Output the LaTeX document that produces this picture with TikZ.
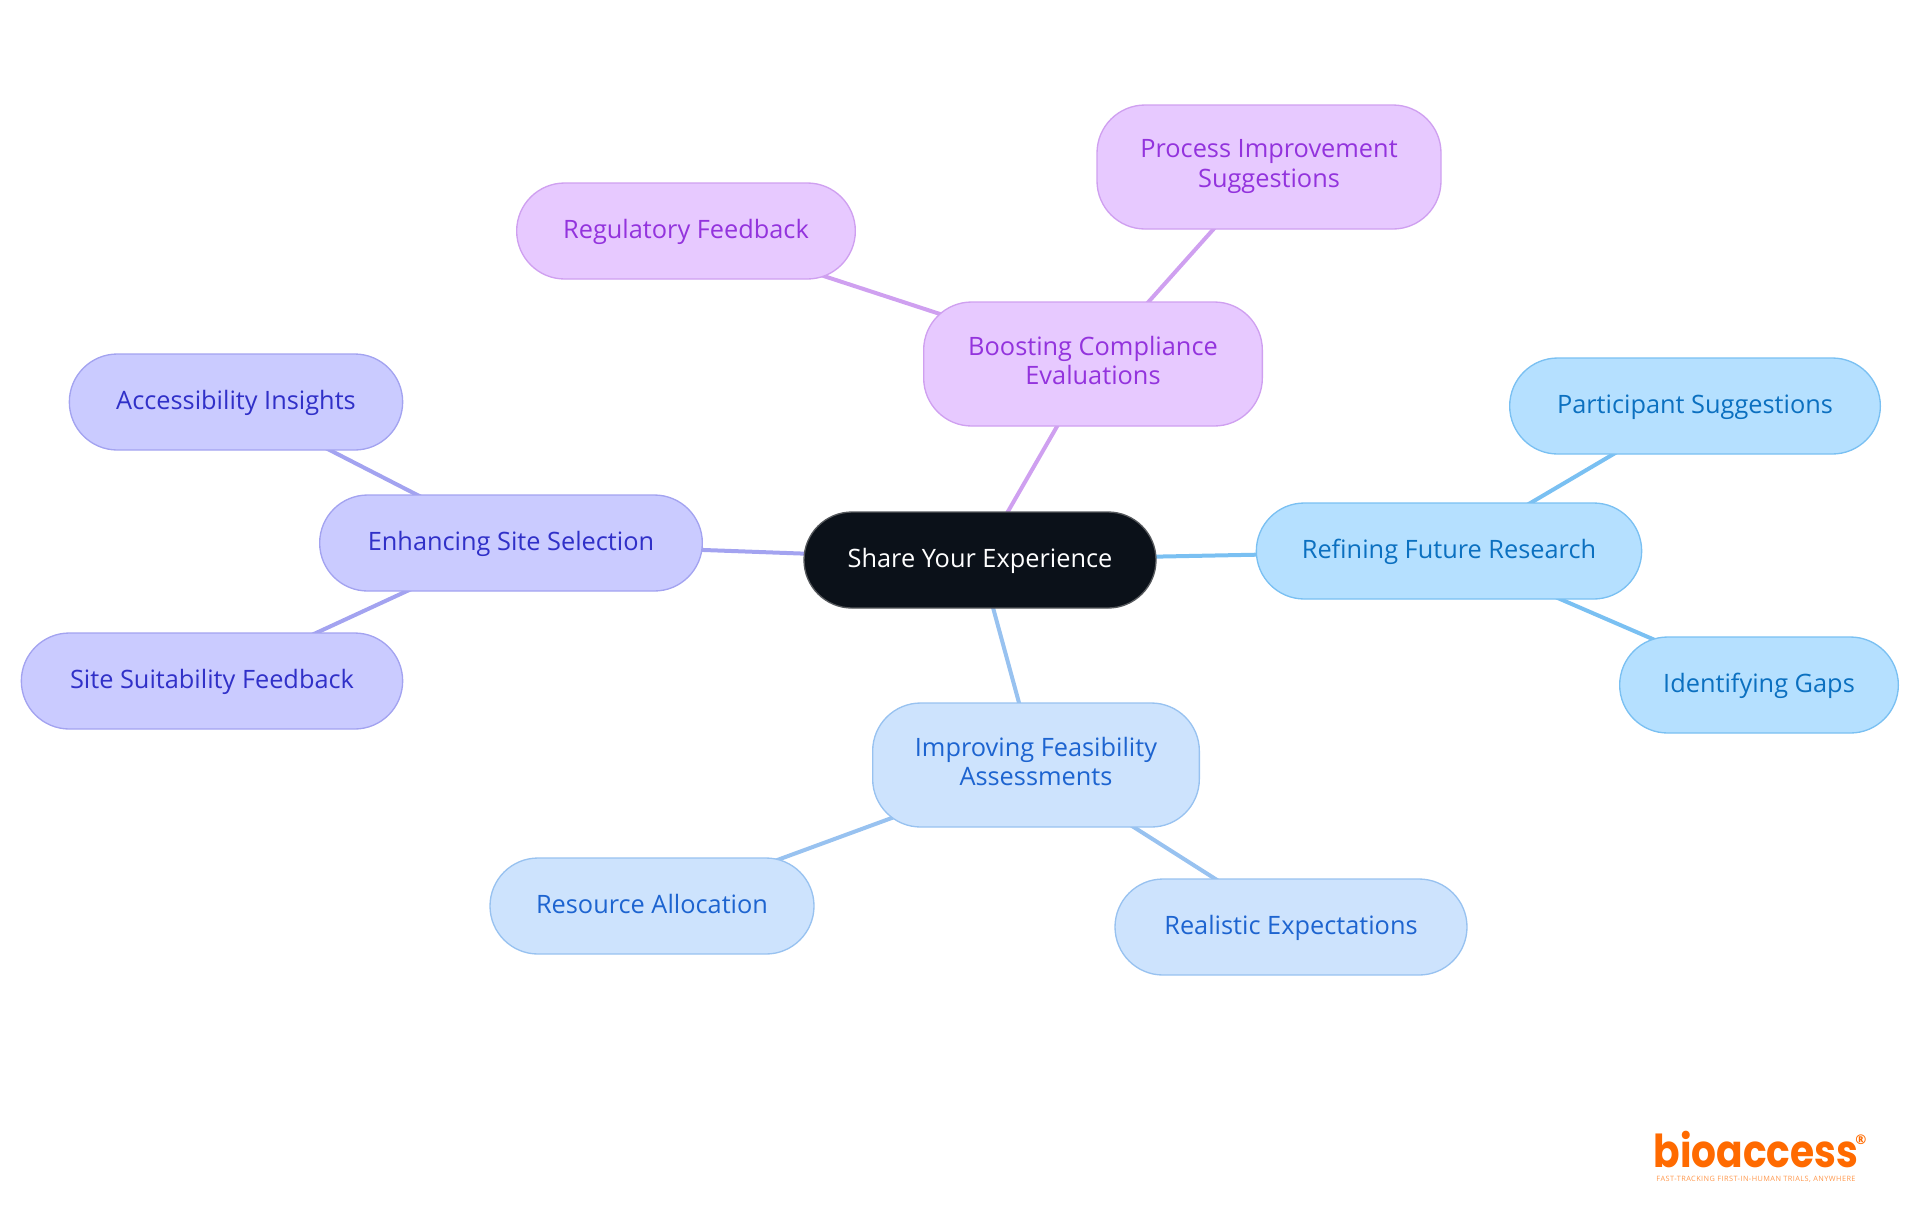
\documentclass[tikz,border=0pt]{standalone}
\usepackage{fontspec}
\setmainfont{Open Sans}
\newfontfamily\logofont{Poppins}
\usetikzlibrary{backgrounds}

\definecolor{rootfill}{HTML}{0B1119}
\definecolor{rootline}{HTML}{55585C}
\definecolor{boostfill}{HTML}{E7C9FF}
\definecolor{boostline}{HTML}{CFA0F0}
\definecolor{boosttext}{HTML}{9333DD}
\definecolor{sitefill}{HTML}{CACBFF}
\definecolor{siteline}{HTML}{A3A3F0}
\definecolor{sitetext}{HTML}{3030C8}
\definecolor{futurefill}{HTML}{B5E0FF}
\definecolor{futureline}{HTML}{7AC0F2}
\definecolor{futuretext}{HTML}{0B70C0}
\definecolor{feasfill}{HTML}{CDE3FD}
\definecolor{feasline}{HTML}{98C2F0}
\definecolor{feastext}{HTML}{1D64D0}
\definecolor{logoorange}{HTML}{FF6A00}

\newcommand{\topicstrut}{\rule[-5.2pt]{0pt}{22pt}}

\tikzset{
	topic/.style={draw, rounded corners=36pt, line width=1pt, align=center, inner sep=0pt, font=\fontsize{19}{22}\selectfont, execute at begin node=\topicstrut, execute at end node=\topicstrut},
	rootnode/.style={topic, fill=rootfill, draw=rootline, text=white, minimum width=264pt, minimum height=72pt},
	boostnode/.style={topic, fill=boostfill, draw=boostline, text=boosttext},
	sitenode/.style={topic, fill=sitefill, draw=siteline, text=sitetext},
	futurenode/.style={topic, fill=futurefill, draw=futureline, text=futuretext},
	feasnode/.style={topic, fill=feasfill, draw=feasline, text=feastext},
	link/.style={line width=3pt}
}

\begin{document}
\begin{tikzpicture}[x=0.75pt,y=-0.75pt]
	\useasboundingbox (0,0) rectangle (1920,1215);

	\node[rootnode] (root) at (980,560) {Share Your Experience};

	\node[boostnode, minimum width=254pt, minimum height=93pt] (boost) at (1093,364) {Boosting Compliance\\Evaluations};
	\node[boostnode, minimum width=258pt, minimum height=93pt] (process) at (1269,167) {Process Improvement\\Suggestions};
	\node[boostnode, minimum width=254pt, minimum height=72pt] (regulatory) at (686,231) {Regulatory Feedback};

	\node[sitenode, minimum width=287pt, minimum height=72pt] (enhancing) at (511,543) {Enhancing Site Selection};
	\node[sitenode, minimum width=250pt, minimum height=72pt] (accessibility) at (236,402) {Accessibility Insights};
	\node[sitenode, minimum width=286pt, minimum height=72pt] (suitability) at (212,681) {Site Suitability Feedback};

	\node[futurenode, minimum width=289pt, minimum height=72pt] (refining) at (1449,551) {Refining Future Research};
	\node[futurenode, minimum width=278pt, minimum height=72pt] (participant) at (1695,406) {Participant Suggestions};
	\node[futurenode, minimum width=209pt, minimum height=72pt] (gaps) at (1759,685) {Identifying Gaps};

	\node[feasnode, minimum width=245pt, minimum height=93pt] (improving) at (1036,765) {Improving Feasibility\\Assessments};
	\node[feasnode, minimum width=243pt, minimum height=72pt] (resource) at (652,906) {Resource Allocation};
	\node[feasnode, minimum width=264pt, minimum height=72pt] (realistic) at (1291,927) {Realistic Expectations};

	\begin{pgfonlayer}{background}
		\draw[link, boostline] (root.center) -- (boost.center);
		\draw[link, boostline] (boost.center) -- (process.center);
		\draw[link, boostline] (boost.center) -- (regulatory.center);
		\draw[link, siteline] (root.center) -- (enhancing.center);
		\draw[link, siteline] (enhancing.center) -- (accessibility.center);
		\draw[link, siteline] (enhancing.center) -- (suitability.center);
		\draw[link, futureline] (root.center) -- (refining.center);
		\draw[link, futureline] (refining.center) -- (participant.center);
		\draw[link, futureline] (refining.center) -- (gaps.center);
		\draw[link, feasline] (root.center) -- (improving.center);
		\draw[link, feasline] (improving.center) -- (resource.center);
		\draw[link, feasline] (improving.center) -- (realistic.center);
	\end{pgfonlayer}

	\node[text=logoorange, font=\logofont\bfseries\fontsize{34}{34}\selectfont, inner sep=0pt, xscale=0.863] (logo) at (1756,1150) {bioaccess};
	\node[text=logoorange, font=\bfseries\fontsize{10}{10}\selectfont, inner sep=0pt] (mark) at (1861,1140) {®};
	\node[text=logoorange!70, font=\fontsize{5.5}{6}\selectfont\addfontfeature{LetterSpace=6}, inner sep=0pt] (tagline) at (1756,1179) {FAST-TRACKING FIRST-IN-HUMAN TRIALS, ANYWHERE};
\end{tikzpicture}
\end{document}
